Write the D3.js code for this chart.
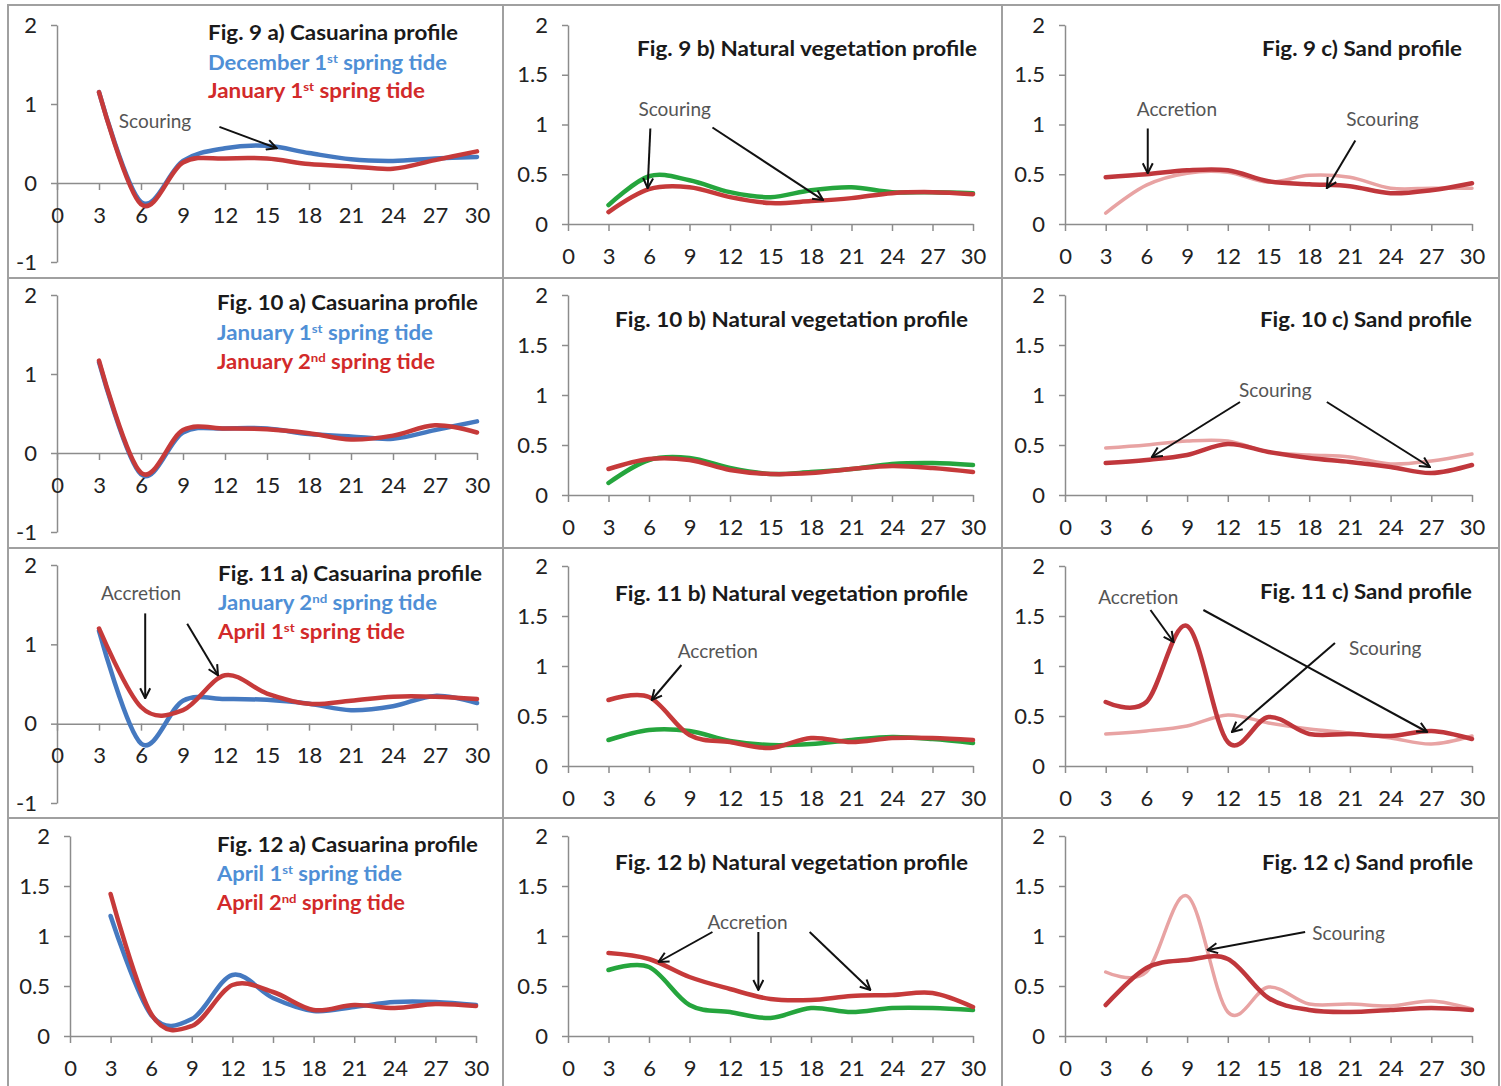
<!DOCTYPE html>
<html>
<head>
<meta charset="utf-8">
<script src="https://cdn.jsdelivr.net/npm/d3@7"></script>
<style>
  body { margin: 0; background: #fff; }
  svg { display: block; font-family: Lato, "Open Sans", sans-serif; }
</style>
</head>
<body>
<svg id="chart" width="1501" height="1086"></svg>
<script>
// Distance along the transect (m)
const distance = [3, 6, 9, 12, 15, 18, 21, 24, 27, 30];
const xTickValues = [0, 3, 6, 9, 12, 15, 18, 21, 24, 27, 30];
const yTicksWide = [-1, 0, 1, 2];
const yTicksNarrow = [0, 0.5, 1, 1.5, 2];

// Spring tide surveys
const tideMonths = ["December", "January", "January", "April", "April"];
const tideOrdinals = [["1", "st"], ["1", "st"], ["2", "nd"], ["1", "st"], ["2", "nd"]];

// Casuarina profile (m)
const casuarinaDec1 = [1.15, -0.24, 0.28, 0.44, 0.47, 0.38, 0.30, 0.28, 0.31, 0.33];
const casuarinaJan1 = [1.15, -0.27, 0.26, 0.31, 0.31, 0.24, 0.21, 0.18, 0.29, 0.40];
const casuarinaJan2 = [1.17, -0.25, 0.29, 0.31, 0.30, 0.25, 0.17, 0.22, 0.35, 0.26];
const casuarinaApr1 = [1.20, 0.21, 0.17, 0.61, 0.38, 0.25, 0.29, 0.34, 0.34, 0.31];
const casuarinaApr2 = [1.42, 0.22, 0.10, 0.51, 0.44, 0.26, 0.31, 0.28, 0.32, 0.30];

// Natural vegetation profile (m)
const vegetationDec1 = [0.19, 0.48, 0.44, 0.32, 0.27, 0.34, 0.37, 0.32, 0.32, 0.31];
const vegetationJan1 = [0.12, 0.35, 0.37, 0.27, 0.21, 0.23, 0.26, 0.31, 0.32, 0.30];
const vegetationJan2 = [0.26, 0.36, 0.35, 0.25, 0.21, 0.22, 0.26, 0.29, 0.27, 0.23];
const vegetationApr1 = [0.66, 0.69, 0.31, 0.24, 0.18, 0.28, 0.24, 0.28, 0.28, 0.26];
const vegetationApr2 = [0.83, 0.77, 0.59, 0.47, 0.37, 0.36, 0.40, 0.41, 0.43, 0.29];

// Sand profile (m)
const sandDec1 = [0.11, 0.39, 0.51, 0.52, 0.42, 0.49, 0.47, 0.36, 0.36, 0.36];
const sandJan1 = [0.47, 0.50, 0.54, 0.54, 0.43, 0.40, 0.38, 0.31, 0.34, 0.41];
const sandJan2 = [0.32, 0.35, 0.40, 0.51, 0.43, 0.37, 0.33, 0.28, 0.22, 0.30];
const sandApr1 = [0.64, 0.64, 1.40, 0.24, 0.49, 0.32, 0.32, 0.30, 0.35, 0.27];
const sandApr2 = [0.31, 0.68, 0.76, 0.77, 0.38, 0.26, 0.24, 0.26, 0.28, 0.26];

const COLORS = {
  blue: "#4579c0", red: "#c63a3a", green: "#25a53d",
  pink: "#e8a3a3", sandRed: "#c0373c",
  blueText: "#4f8fd6", redText: "#d22a2a",
  axis: "#8c8c8c", border: "#a0a0a0", note: "#555"
};

const svg = d3.select("#chart");

// Outer frames of the twelve charts
const frameX = [8, 503, 1002, 1499];
const frameY = [5, 278, 548, 818, 1100];
for (let r = 0; r < 4; r++) {
  for (let c = 0; c < 3; c++) {
    svg.append("rect")
      .attr("x", frameX[c]).attr("y", frameY[r])
      .attr("width", frameX[c + 1] - frameX[c]).attr("height", frameY[r + 1] - frameY[r])
      .attr("fill", "#fff").attr("stroke", COLORS.border).attr("stroke-width", 2);
  }
}

// Arrow head marker
svg.append("defs").append("marker")
  .attr("id", "arrow").attr("viewBox", "0 0 12 12")
  .attr("refX", 11).attr("refY", 6)
  .attr("markerWidth", 12).attr("markerHeight", 12)
  .attr("markerUnits", "userSpaceOnUse").attr("orient", "auto")
  .append("path").attr("d", "M1,1 L11,6 L1,11")
  .attr("fill", "none").attr("stroke", "#111").attr("stroke-width", 2);

// Panel definitions: series pairs (earlier survey first), layout and annotations
const panels = [
  { fig: "9", part: "a", name: "Casuarina profile", data: [casuarinaDec1, casuarinaJan1], tides: [0, 1],
    colors: [COLORS.blue, COLORS.red], widths: [4.5, 4.5],
    x: [57, 477], y: [262, 25], domain: [-1, 2], ticks: yTicksWide,
    title: [208, 40, 250], legend: [[70, 239], [98, 217]],
    notes: [{ text: "Scouring", at: [7.0, 0.78], arrows: [[[11.6, 0.71], [15.7, 0.44]]] }] },
  { fig: "9", part: "b", name: "Natural vegetation profile", data: [vegetationDec1, vegetationJan1],
    colors: [COLORS.green, COLORS.red], widths: [4.5, 4.5],
    x: [568, 973], y: [224, 25], domain: [0, 2], ticks: yTicksNarrow,
    title: [637, 56, 340],
    notes: [{ text: "Scouring", at: [7.9, 1.15], arrows: [[[6.1, 0.96], [5.9, 0.36]], [[10.7, 0.97], [18.9, 0.24]]] }] },
  { fig: "9", part: "c", name: "Sand profile", data: [sandDec1, sandJan1],
    colors: [COLORS.pink, COLORS.sandRed], widths: [3.5, 4.5],
    x: [1065, 1472], y: [224, 25], domain: [0, 2], ticks: yTicksNarrow,
    title: [1262, 56, 200],
    notes: [{ text: "Accretion", at: [8.25, 1.15], arrows: [[[6.1, 0.96], [6.1, 0.51]]] },
            { text: "Scouring", at: [23.4, 1.05], arrows: [[[21.4, 0.84], [19.3, 0.36]]] }] },

  { fig: "10", part: "a", name: "Casuarina profile", data: [casuarinaJan1, casuarinaJan2], tides: [1, 2],
    colors: [COLORS.blue, COLORS.red], widths: [4.5, 4.5],
    x: [57, 477], y: [532, 295], domain: [-1, 2], ticks: yTicksWide,
    title: [217, 310, 261], legend: [[340, 216], [369, 218]], notes: [] },
  { fig: "10", part: "b", name: "Natural vegetation profile", data: [vegetationJan1, vegetationJan2],
    colors: [COLORS.green, COLORS.red], widths: [4.5, 4.5],
    x: [568, 973], y: [495, 295], domain: [0, 2], ticks: yTicksNarrow,
    title: [615, 327, 353], notes: [] },
  { fig: "10", part: "c", name: "Sand profile", data: [sandJan1, sandJan2],
    colors: [COLORS.pink, COLORS.sandRed], widths: [3.5, 4.5],
    x: [1065, 1472], y: [495, 295], domain: [0, 2], ticks: yTicksNarrow,
    title: [1260, 327, 212],
    notes: [{ text: "Scouring", at: [15.5, 1.05], arrows: [[[12.9, 0.93], [6.4, 0.38]], [[19.3, 0.93], [26.9, 0.28]]] }] },

  { fig: "11", part: "a", name: "Casuarina profile", data: [casuarinaJan2, casuarinaApr1], tides: [2, 3],
    colors: [COLORS.blue, COLORS.red], widths: [4.5, 4.5],
    x: [57, 477], y: [803, 565], domain: [-1, 2], ticks: yTicksWide,
    title: [218, 581, 264], legend: [[610, 219], [639, 187]],
    notes: [{ text: "Accretion", at: [6.0, 1.64], arrows: [[[6.3, 1.39], [6.3, 0.32]], [[9.3, 1.26], [11.5, 0.61]]] }] },
  { fig: "11", part: "b", name: "Natural vegetation profile", data: [vegetationJan2, vegetationApr1],
    colors: [COLORS.green, COLORS.red], widths: [4.5, 4.5],
    x: [568, 973], y: [766, 566], domain: [0, 2], ticks: yTicksNarrow,
    title: [615, 601, 353],
    notes: [{ text: "Accretion", at: [11.1, 1.15], arrows: [[[8.4, 1.01], [6.2, 0.66]]] }] },
  { fig: "11", part: "c", name: "Sand profile", data: [sandJan2, sandApr1],
    colors: [COLORS.pink, COLORS.sandRed], widths: [3.5, 4.5],
    x: [1065, 1472], y: [766, 566], domain: [0, 2], ticks: yTicksNarrow,
    title: [1260, 599, 212],
    notes: [{ text: "Accretion", at: [5.4, 1.69], arrows: [[[6.3, 1.56], [8.0, 1.24]], [[10.2, 1.56], [26.7, 0.34]]] },
            { text: "Scouring", at: [23.6, 1.18], arrows: [[[19.9, 1.23], [12.3, 0.34]]] }] },

  { fig: "12", part: "a", name: "Casuarina profile", data: [casuarinaApr1, casuarinaApr2], tides: [3, 4],
    colors: [COLORS.blue, COLORS.red], widths: [4.5, 4.5],
    x: [70, 476], y: [1036, 836], domain: [0, 2], ticks: yTicksNarrow,
    title: [217, 852, 261], legend: [[881, 185], [910, 188]], notes: [] },
  { fig: "12", part: "b", name: "Natural vegetation profile", data: [vegetationApr1, vegetationApr2],
    colors: [COLORS.green, COLORS.red], widths: [4.5, 4.5],
    x: [568, 973], y: [1036, 836], domain: [0, 2], ticks: yTicksNarrow,
    title: [615, 870, 353],
    notes: [{ text: "Accretion", at: [13.3, 1.14],
              arrows: [[[10.7, 1.04], [6.7, 0.74]], [[14.1, 1.04], [14.1, 0.46]], [[17.9, 1.04], [22.4, 0.46]]] }] },
  { fig: "12", part: "c", name: "Sand profile", data: [sandApr1, sandApr2],
    colors: [COLORS.pink, COLORS.sandRed], widths: [3.5, 4.5],
    x: [1065, 1472], y: [1036, 836], domain: [0, 2], ticks: yTicksNarrow,
    title: [1262, 870, 211],
    notes: [{ text: "Scouring", at: [20.9, 1.03], arrows: [[[17.7, 1.04], [10.5, 0.86]]] }] }
];

// Plain hyphen for negative values
const fmt = d => String(d);

panels.forEach(p => {
  const g = svg.append("g");
  const x = d3.scaleLinear().domain([0, 30]).range(p.x);
  const y = d3.scaleLinear().domain(p.domain).range(p.y);

  // Vertical axis
  const yAxis = g.append("g")
    .attr("transform", `translate(${p.x[0]},0)`)
    .call(d3.axisLeft(y).tickValues(p.ticks).tickSize(6).tickSizeOuter(0).tickPadding(14).tickFormat(fmt));
  yAxis.select(".domain").attr("stroke", COLORS.axis).attr("stroke-width", 1.5);
  yAxis.selectAll(".tick line").attr("stroke", COLORS.axis).attr("stroke-width", 1.5);
  yAxis.selectAll("text").attr("font-size", 22).attr("fill", "#222").attr("font-family", "Lato, 'Open Sans', sans-serif");

  // Horizontal axis at zero
  const xAxis = g.append("g")
    .attr("transform", `translate(0,${y(0)})`)
    .call(d3.axisBottom(x).tickValues(xTickValues).tickSize(7).tickSizeOuter(0).tickPadding(17).tickFormat(fmt));
  xAxis.select(".domain").attr("stroke", COLORS.axis).attr("stroke-width", 1.5);
  xAxis.selectAll(".tick line").attr("stroke", COLORS.axis).attr("stroke-width", 1.5);
  xAxis.selectAll("text").attr("font-size", 22).attr("fill", "#222").attr("font-family", "Lato, 'Open Sans', sans-serif");

  // Smoothed profile lines
  const line = d3.line()
    .x((d, i) => x(distance[i]))
    .y(d => y(d))
    .curve(d3.curveCardinal.tension(0));
  p.data.forEach((series, k) => {
    g.append("path")
      .attr("d", line(series))
      .attr("fill", "none")
      .attr("stroke", p.colors[k])
      .attr("stroke-width", p.widths[k])
      .attr("stroke-linejoin", "round")
      .attr("stroke-linecap", "round");
  });

  // Title
  g.append("text")
    .attr("x", p.title[0]).attr("y", p.title[1])
    .attr("font-size", 20).attr("font-weight", 700).attr("fill", "#1a1a1a")
    .attr("textLength", p.title[2]).attr("lengthAdjust", "spacingAndGlyphs")
    .text(`Fig. ${p.fig} ${p.part}) ${p.name}`);

  // Legend text for the casuarina charts
  if (p.legend) {
    p.legend.forEach((pos, k) => {
      const t = p.tides[k];
      const txt = g.append("text")
        .attr("x", p.title[0]).attr("y", pos[0])
        .attr("font-size", 20).attr("font-weight", 700)
        .attr("fill", k === 0 ? COLORS.blueText : COLORS.redText)
        .attr("textLength", pos[1]).attr("lengthAdjust", "spacingAndGlyphs");
      txt.append("tspan").text(`${tideMonths[t]} ${tideOrdinals[t][0]}`);
      txt.append("tspan").attr("baseline-shift", "super").attr("font-size", 12).text(tideOrdinals[t][1]);
      txt.append("tspan").text(" spring tide");
    });
  }

  // Annotations
  p.notes.forEach(n => {
    g.append("text")
      .attr("x", x(n.at[0])).attr("y", y(n.at[1]))
      .attr("dy", "0.35em")
      .attr("text-anchor", "middle")
      .attr("font-size", 19).attr("fill", COLORS.note)
      .text(n.text);
    n.arrows.forEach(a => {
      g.append("line")
        .attr("x1", x(a[0][0])).attr("y1", y(a[0][1]))
        .attr("x2", x(a[1][0])).attr("y2", y(a[1][1]))
        .attr("stroke", "#111").attr("stroke-width", 2)
        .attr("marker-end", "url(#arrow)");
    });
  });
});
</script>
</body>
</html>
